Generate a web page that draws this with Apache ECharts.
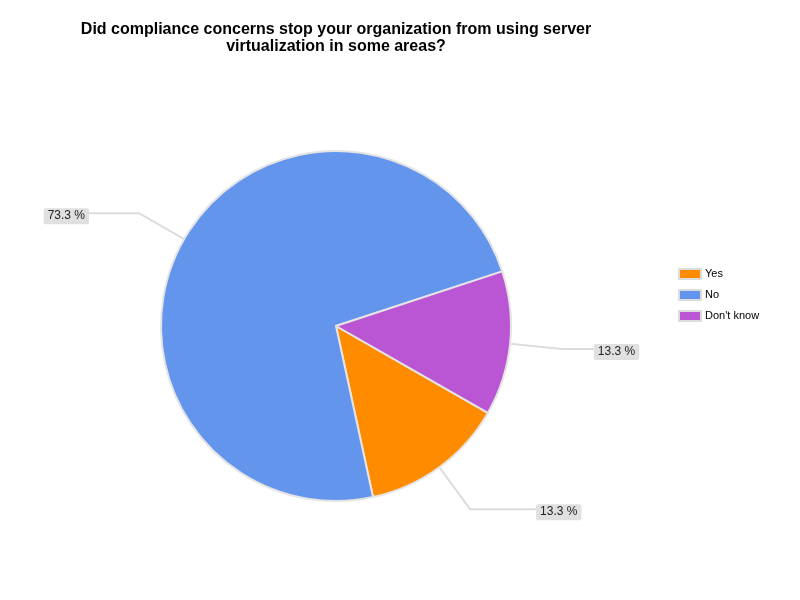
<!DOCTYPE html>
<html style="height: 100%">
<head>
    <meta charset="utf-8">
    <script src="https://cdn.jsdelivr.net/npm/echarts@6/dist/echarts.min.js"></script>
</head>
<body style="height: 100%; margin: 0; background: #fff">
<div id="main" style="width: 800px; height: 600px;"></div>
<script type="text/javascript">
    const answers = ['Yes', 'No', "Don't know"];
    const counts = [2, 11, 2];
    const sliceColors = ['#ff8c00', '#6495ed', '#ba55d3'];

    // per-slice leader line lengths (2nd leg)
    const leg2 = [66, 50, 32];

    var chart = echarts.init(document.getElementById('main'));

    var total = counts.reduce(function (a, b) { return a + b; }, 0);

    var pieData = answers.map(function (name, i) {
        return {
            name: name,
            value: counts[i],
            itemStyle: { color: sliceColors[i] },
            labelLine: { length2: leg2[i] }
        };
    });

    var option = {
        animation: false,
        title: {
            text: 'Did compliance concerns stop your organization from using server\nvirtualization in some areas?',
            left: 331,
            top: 16,
            textAlign: 'center',
            textStyle: {
                fontFamily: 'Liberation Sans, Arial',
                fontSize: 16,
                fontWeight: 'bold',
                color: '#000',
                lineHeight: 17
            }
        },
        legend: {
            orient: 'vertical',
            left: 673,
            top: 263,
            itemWidth: 22,
            itemHeight: 10,
            itemGap: 9,
            icon: 'rect',
            itemStyle: { borderColor: '#dcdcdc', borderWidth: 2 },
            textStyle: { fontFamily: 'Liberation Sans, Arial', fontSize: 11, color: '#000', padding: [0, 0, 0, -1] },
            data: answers
        },
        series: [{
            type: 'pie',
            center: [336, 326],
            radius: 175,
            startAngle: -29.8,
            clockwise: true,
            itemStyle: { borderColor: '#e4e4e4', borderWidth: 2 },
            label: {
                show: true,
                formatter: function (p) {
                    return (p.value / total * 100).toFixed(1) + ' %';
                },
                distanceToLabelLine: 0,
                fontFamily: 'Liberation Sans, Arial',
                fontSize: 12,
                color: '#222',
                backgroundColor: '#e0e0e0',
                borderRadius: 2,
                padding: [2, 4, 2, 4]
            },
            labelLayout: { dy: 3 },
            labelLine: {
                show: true,
                length: 52,
                lineStyle: { color: '#dcdcdc', width: 2 }
            },
            emphasis: { disabled: true },
            data: pieData
        }]
    };

    chart.setOption(option);
</script>
</body>
</html>
